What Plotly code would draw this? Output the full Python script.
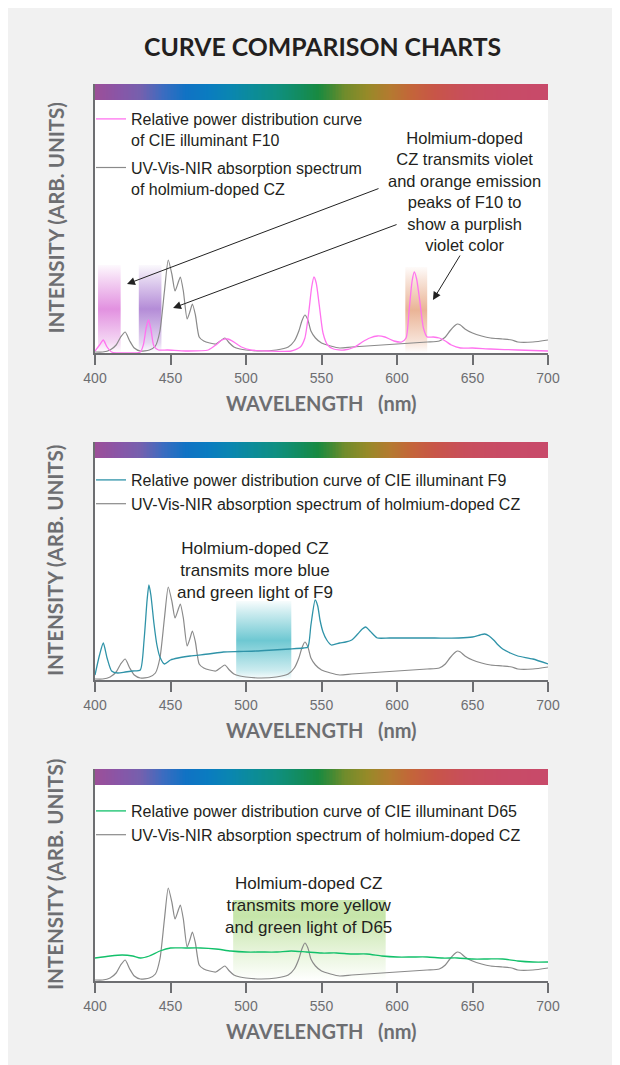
import numpy as np
import plotly.graph_objects as go

W, H = 620, 1065

# wavelength ticks
tick_nm = [400, 450, 500, 550, 600, 650, 700]

# UV-Vis-NIR absorption spectrum of holmium-doped CZ (same curve in all three charts)
cz_nm = [400, 405, 410, 414, 417, 420, 423, 426, 430, 436, 440, 443, 446, 448.5, 451, 453, 455,
         456.5, 458.5, 461, 463, 464.5, 466.5, 469, 472, 476, 480, 483, 486, 489, 492, 496, 500,
         510, 520, 528, 532, 535, 537, 539, 541, 543, 546, 550, 556, 562, 570, 580, 590, 600,
         610, 620, 628, 632, 635, 638, 640, 642, 645, 650, 656, 662, 670, 676, 680, 690, 700]
cz_val = [1, 1, 3, 8, 16, 21, 12, 5, 2, 3, 7, 22, 62, 93, 78, 62, 70,
          76, 62, 34, 42, 49, 38, 16, 12, 10, 9, 12, 15, 10, 6, 4, 3,
          2, 3, 6, 12, 22, 32, 38, 33, 22, 15, 10, 7, 5, 6, 7, 8, 9,
          10, 11, 12, 16, 22, 27, 29, 28, 24, 20, 17, 15, 14, 13, 11, 11, 13]

# CIE illuminant F10
f10_nm = [400, 403, 405.5, 408, 411, 420, 430, 432, 434, 435.5, 437, 439, 442, 448, 460, 475,
          480, 484, 488, 492, 497, 503, 515, 530, 536, 539, 541.5, 543.5, 545, 546.5, 548.5, 551,
          554, 558, 565, 572, 577, 582, 587, 592, 598, 603, 606, 608, 610, 611.5, 613, 615, 617.5,
          620, 624, 628, 632, 636, 642, 650, 662, 680, 700]
f10_val = [2, 8, 13, 6, 1, 0, 1, 8, 26, 33, 24, 7, 3, 3, 2, 3,
           8, 13, 14, 11, 6, 3, 2, 2, 6, 15, 40, 66, 76, 70, 48, 20,
           8, 4, 3, 6, 11, 15, 17, 16, 12, 11, 15, 42, 72, 81, 74, 53, 25,
           16, 16, 15, 12, 8, 5, 5, 4, 3, 2]

# CIE illuminant F9
f9_nm = [400, 403, 405.5, 408, 411, 415, 420, 425, 430, 432.5, 434.5, 435.7, 437, 439, 441, 443,
         446, 450, 455, 463, 475, 485, 495, 507, 518, 529, 538, 541, 543, 545.8, 547.5, 549, 551,
         553.5, 556.5, 562, 566, 570, 574, 577, 579.3, 581.5, 584, 587, 595, 610, 625, 641, 650,
         655, 658, 661, 664, 667, 670, 675, 680, 690, 700]
f9_val = [5, 25, 37, 22, 9, 7, 8, 9, 10, 40, 80, 95, 85, 57, 35, 23,
          16, 20, 22, 24, 26, 28, 28.5, 29, 30, 31, 32, 33, 55, 80, 74, 60, 48,
          40, 35, 37, 38, 40, 46, 51, 53, 50, 46, 42, 42, 42, 42, 42, 43,
          45, 46, 44, 40, 35, 31, 27, 24, 21, 16]

# CIE illuminant D65
d65_nm = [400, 410, 418, 425, 430, 436, 443, 450, 460, 470, 480, 490, 500, 510, 520, 530, 540,
          550, 560, 570, 580, 590, 600, 610, 620, 630, 640, 650, 660, 670, 680, 690, 700]
d65_val = [23, 25, 26, 25, 23, 25, 30, 33, 33, 33, 32, 30, 29, 29, 29, 30, 29,
           28, 28, 27, 27, 25, 24, 24, 24, 23, 23, 22, 22, 22, 20, 19, 19]

# spectrum bar colours
bar_nm = [400, 415, 430, 445, 460, 475, 490, 505, 520, 535, 548, 558, 565, 580, 595, 610, 625, 645, 670, 700]
bar_colors = ['#9c4f98', '#8a55a6', '#7560ae', '#3c6cc0', '#1072c4', '#0a7cc0', '#0a86b0', '#0c8c98',
              '#0f8f80', '#128c60', '#198a40', '#4a8a32', '#6f8c2c', '#968a28', '#b47a30', '#c4643a',
              '#c85548', '#c84e5c', '#c84b66', '#c84a6a']

# highlighted bands: (panel, x0, x1, top, rgb, profile)
bands = [
    (1, 402, 417, 88, (226, 145, 224), 'mid'),
    (1, 429, 444, 88, (180, 140, 215), 'mid'),
    (1, 605.5, 620, 86, (234, 180, 150), 'mid'),
    (2, 493.5, 530, 79, (110, 200, 210), 'mid'),
    (3, 491.5, 592.5, 81, (195, 228, 165), 'top'),
]

GRAY = '#6d6e71'
INK = '#231f20'
SANS = 'Liberation Sans, Arial, sans-serif'
HEAD = 'Lato, sans-serif'
OFF = 8  # page body margin


def px(x):
    return (x - OFF) / W


def py(y):
    return 1 - (y - OFF) / H


# panel geometry in page pixels: bar top, plot top, axis
panels = [(84, 100, 353), (442, 458, 680), (769, 785, 981)]
x_dom = [px(95), px(548)]

fig = go.Figure()

# spectrum bars
stops = [[(n - 400) / 300, c] for n, c in zip(bar_nm, bar_colors)]
grid = np.linspace(400, 700, 301)
for i in range(3):
    fig.add_trace(go.Heatmap(
        x=grid, y=[0, 1], z=[grid, grid], colorscale=stops, showscale=False,
        hoverinfo='skip', xaxis='x' if i == 0 else f'x{i + 1}', yaxis=f'y{i + 4}'))

# shaded bands
for p, x0, x1, top, (r, g, b), prof in bands:
    if prof == 'mid':
        cs = [[0, f'rgba({r},{g},{b},0)'], [0.12, f'rgba({r},{g},{b},0.35)'],
              [0.5, f'rgba({r},{g},{b},1)'], [0.85, f'rgba({r},{g},{b},0.35)'],
              [1, f'rgba({r},{g},{b},0.05)']]
    else:
        cs = [[0, f'rgba({r},{g},{b},0)'], [0.4, f'rgba({r},{g},{b},0.45)'],
              [0.8, f'rgba({r},{g},{b},0.95)'], [1, f'rgba({r},{g},{b},0.85)']]
    sfx = '' if p == 1 else str(p)
    fig.add_trace(go.Scatter(
        x=[x0, x1, x1, x0, x0], y=[0, 0, top, top, 0], mode='lines', fill='toself',
        line=dict(width=0), fillgradient=dict(type='vertical', start=0, stop=top, colorscale=cs),
        showlegend=False, hoverinfo='skip', xaxis='x' + sfx, yaxis='y' + sfx))

# curves
series = [
    (1, f10_nm, f10_val, '#ff73ef', 'Relative power distribution curve<br>of CIE illuminant F10',
     'UV-Vis-NIR absorption spectrum<br>of holmium-doped CZ'),
    (2, f9_nm, f9_val, '#2f93a8', 'Relative power distribution curve of CIE illuminant F9',
     'UV-Vis-NIR absorption spectrum of holmium-doped CZ'),
    (3, d65_nm, d65_val, '#12c06a', 'Relative power distribution curve of CIE illuminant D65',
     'UV-Vis-NIR absorption spectrum of holmium-doped CZ'),
]
for p, nm, val, col, lab, czlab in series:
    sfx = '' if p == 1 else str(p)
    leg = 'legend' if p == 1 else f'legend{p}'
    fig.add_trace(go.Scatter(
        x=cz_nm, y=cz_val, mode='lines', line=dict(color='#8a8a8a', width=1.2, shape='spline', smoothing=0.6),
        name=czlab, legend=leg, legendgroup=f'cz{p}', legendrank=2, xaxis='x' + sfx, yaxis='y' + sfx))
    fig.add_trace(go.Scatter(
        x=nm, y=val, mode='lines', line=dict(color=col, width=1.3, shape='spline', smoothing=0.6),
        name=lab, legend=leg, legendgroup=f'il{p}', legendrank=1, xaxis='x' + sfx, yaxis='y' + sfx))

layout = dict(
    width=W, height=H, margin=dict(l=0, r=0, t=0, b=0, autoexpand=False),
    paper_bgcolor='#f1f1f1', plot_bgcolor='white', showlegend=True,
)

for i, (bar_top, top, axis) in enumerate(panels):
    n = i + 1
    xa = 'xaxis' if n == 1 else f'xaxis{n}'
    ya = 'yaxis' if n == 1 else f'yaxis{n}'
    layout[xa] = dict(
        domain=x_dom, range=[400, 700], anchor='y' if n == 1 else f'y{n}',
        tickvals=tick_nm, ticks='outside', ticklen=10, tickwidth=2, tickcolor=GRAY,
        showline=True, linecolor=GRAY, linewidth=2, showgrid=False, zeroline=False,
        tickfont=dict(family=SANS, size=14, color=GRAY), ticklabelstandoff=1,
    )
    layout[ya] = dict(
        domain=[py(axis), py(top)], range=[0, axis - top], anchor='x' if n == 1 else f'x{n}',
        showline=True, linecolor=GRAY, linewidth=2, showticklabels=False, ticks='',
        showgrid=False, zeroline=False,
    )
    layout[f'yaxis{n + 3}'] = dict(
        domain=[py(top), py(bar_top)], range=[0, 1], anchor='x' if n == 1 else f'x{n}',
        showline=True, linecolor=GRAY, linewidth=2, showticklabels=False, ticks='',
        showgrid=False, zeroline=False,
    )

legend_tops = [102, 463, 794]
for i, t in enumerate(legend_tops):
    key = 'legend' if i == 0 else f'legend{i + 1}'
    layout[key] = dict(
        x=px(91), y=py(t), xanchor='left', yanchor='top', bgcolor='rgba(0,0,0,0)',
        font=dict(family=SANS, size=16, color=INK), valign='top',
        traceorder='grouped', tracegroupgap=4 if i == 0 else 0,
    )

fig.update_layout(**layout)

# titles
fig.add_annotation(text='CURVE COMPARISON CHARTS', x=px(322), y=py(46), xref='paper', yref='paper',
                   xanchor='center', yanchor='middle', showarrow=False,
                   font=dict(family=HEAD, size=24.8, color=INK, weight='bold'))
for bar_top, top, axis in panels:
    fig.add_annotation(text='WAVELENGTH  \u00a0(nm)', x=px(321.5), y=py(axis + 50), xref='paper',
                       yref='paper', xanchor='center', yanchor='middle', showarrow=False,
                       font=dict(family=HEAD, size=20, color=GRAY, weight='bold'))
    fig.add_annotation(text='INTENSITY (ARB. UNITS)', x=px(55), y=py((bar_top + axis) / 2),
                       xref='paper', yref='paper', xanchor='center', yanchor='middle',
                       showarrow=False, textangle=-90,
                       font=dict(family=HEAD, size=20.5, color=GRAY, weight='bold'))

# notes
fig.add_annotation(text='Holmium-doped<br>CZ transmits violet<br>and orange emission<br>peaks of F10 to'
                        '<br>show a purplish<br>violet color',
                   x=645, y=161, xref='x', yref='y', xanchor='center', yanchor='middle',
                   showarrow=False, font=dict(family=SANS, size=16.5, color=INK))
fig.add_annotation(text='Holmium-doped CZ<br>transmits more blue<br>and green light of F9',
                   x=506, y=110, xref='x2', yref='y2', xanchor='center', yanchor='middle',
                   showarrow=False, font=dict(family=SANS, size=17, color=INK))
fig.add_annotation(text='Holmium-doped CZ<br>transmits more yellow<br>and green light of D65',
                   x=541.7, y=76, xref='x3', yref='y3', xanchor='center', yanchor='middle',
                   showarrow=False, font=dict(family=SANS, size=17, color=INK))

# arrows (head in data coords, tail offset in pixels)
arrows = [(421.2, 69, 253, -96), (451.7, 45, 225, -84), (623.8, 53, 28, -46)]
for hx, hy, ax, ay in arrows:
    fig.add_annotation(x=hx, y=hy, xref='x', yref='y', ax=ax, ay=ay, text='', showarrow=True,
                       arrowhead=2, arrowsize=1.6, arrowwidth=1, arrowcolor='#222222')

fig.write_html('out.html', config={'displayModeBar': False})
